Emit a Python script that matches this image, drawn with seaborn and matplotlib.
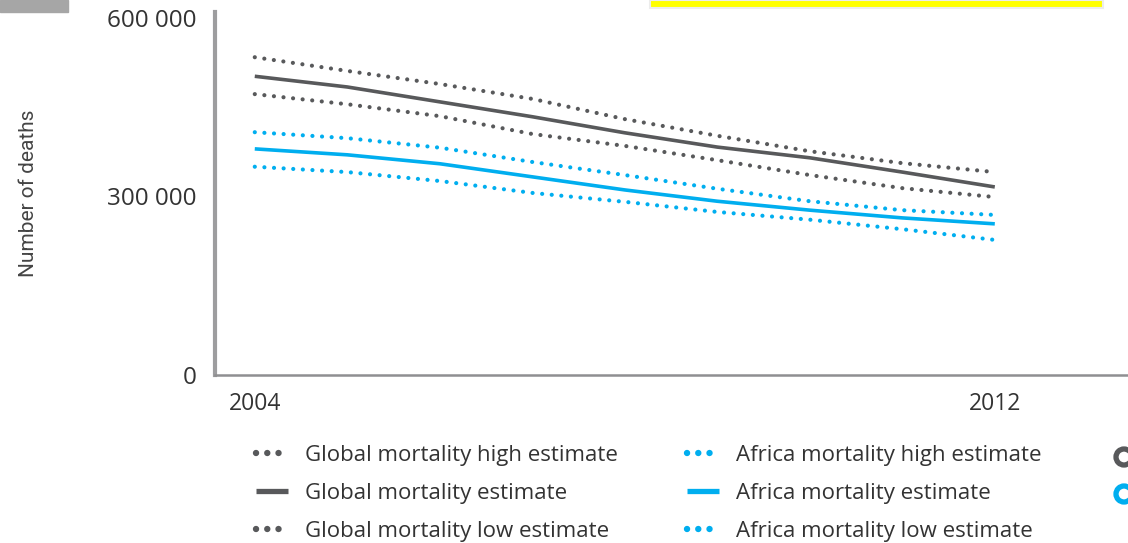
import numpy as np
import pandas as pd
import matplotlib
matplotlib.use("Agg")
import matplotlib.pyplot as plt
from matplotlib.lines import Line2D
from matplotlib.patches import Rectangle, Circle
import seaborn as sns

# Yearly death estimates
years = [2004, 2005, 2006, 2007, 2008, 2009, 2010, 2011, 2012]
global_high = [534000, 511000, 489000, 464000, 430000, 402000, 376000, 356000, 341000]
global_est = [502000, 484000, 459000, 434000, 407000, 383000, 365000, 341000, 316000]
global_low = [472000, 455000, 435000, 405000, 385000, 361000, 336000, 314000, 299000]
africa_high = [408000, 398000, 382000, 358000, 336000, 313000, 292000, 277000, 269000]
africa_est = [380000, 370000, 355000, 333000, 311000, 292000, 277000, 264000, 254000]
africa_low = [350000, 341000, 326000, 306000, 291000, 274000, 261000, 245000, 227000]

series_labels = [
    "Global mortality high estimate",
    "Global mortality estimate",
    "Global mortality low estimate",
    "Africa mortality high estimate",
    "Africa mortality estimate",
    "Africa mortality low estimate",
]
y_ticks = [0, 300000, 600000]
y_tick_labels = ["0", "300 000", "600 000"]
x_ticks = [2004, 2012]
x_tick_labels = ["2004", "2012"]

GREY = "#58595b"
BLUE = "#00aeef"
DOT = (0, (0.01, 2.3))

sns.set_theme(style="white")
plt.rcParams["font.family"] = ["Open Sans", "DejaVu Sans"]

fig = plt.figure(figsize=(11.28, 5.43), dpi=100)
ax = fig.add_axes([215 / 1128, 1 - 375 / 543, 1 - 215 / 1128, (375 - 12) / 543])

series = [
    (global_high, GREY, DOT, 3.0),
    (global_est, GREY, "-", 2.6),
    (global_low, GREY, DOT, 3.0),
    (africa_high, BLUE, DOT, 3.0),
    (africa_est, BLUE, "-", 2.6),
    (africa_low, BLUE, DOT, 3.0),
]
for vals, col, ls, lw in series:
    sns.lineplot(x=years, y=vals, ax=ax, color=col, linestyle=ls, lw=lw,
                 dash_capstyle="round", solid_capstyle="butt", legend=False)

ax.set_xlim(2003.57, 2013.44)
ax.set_ylim(0, 610000)
ax.set_yticks(y_ticks)
ax.set_yticklabels(y_tick_labels, fontsize=17.5, color="#333333")
ax.set_xticks(x_ticks)
ax.set_xticklabels(x_tick_labels, fontsize=16.5, color="#333333")
ax.tick_params(axis="y", length=0, pad=13)
ax.tick_params(axis="x", length=0, pad=12)
ax.set_ylabel("Number of deaths", fontsize=15, color="#444444",
              family=["Roboto", "DejaVu Sans"], fontweight="normal", labelpad=50)
ax.set_xlabel("")

for side in ("top", "right"):
    ax.spines[side].set_visible(False)
ax.spines["left"].set_color("#9d9d9f")
ax.spines["left"].set_linewidth(3)
ax.spines["bottom"].set_color("#8f8f91")
ax.spines["bottom"].set_linewidth(1.8)

# Legend in two columns below the plot
handles = []
for vals, col, ls, lw in series:
    if ls == "-":
        handles.append(Line2D([], [], color=col, lw=3.8, solid_capstyle="butt"))
    else:
        handles.append(Line2D([], [], color=col, lw=4.6, linestyle=(0, (0.01, 1.75)),
                              dash_capstyle="round"))
leg = fig.legend(handles, series_labels, ncol=2, loc="upper left",
                 bbox_to_anchor=(236 / 1128, 1 - 425 / 543), frameon=False,
                 handlelength=1.45, handletextpad=0.75,
                 columnspacing=3.1, labelspacing=0.76,
                 prop={"family": ["Open Sans", "DejaVu Sans"], "size": 16})
for t in leg.get_texts():
    t.set_color("#333333")

# Page elements around the chart
fig.patches.append(Rectangle((0, 1 - 12 / 543), 68 / 1128, 12 / 543,
                             transform=fig.transFigure, color="#a6a6a6", zorder=0))
fig.patches.append(Rectangle((650 / 1128, 1 - 8 / 543), 453 / 1128, 8 / 543,
                             transform=fig.transFigure, facecolor="#ffff00",
                             edgecolor="#ececec", lw=1.5, zorder=0))
fig.patches.append(Circle((1124, 543 - 457), 8, transform=None, fill=False,
                          edgecolor=GREY, lw=3.8))
fig.patches.append(Circle((1124, 543 - 494), 8, transform=None, fill=False,
                          edgecolor=BLUE, lw=3.8))

fig.savefig("out.png", dpi=100)
